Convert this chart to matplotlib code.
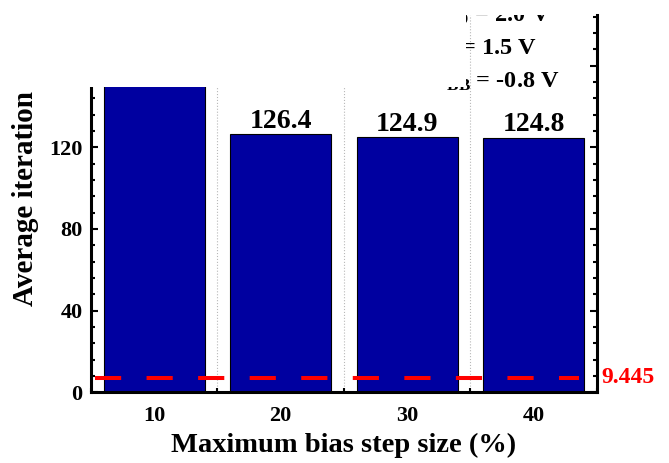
import numpy as np
import matplotlib
matplotlib.use('Agg')
from matplotlib import pyplot as plt
from matplotlib.patches import Rectangle
from matplotlib.ticker import MultipleLocator

# data
stepSize = [10, 20, 30, 40]
avgIter = [168.0, 126.4, 124.9, 124.8]   # first bar is cut off in the reference
refLevel = 7.0                           # where the dashed line sits
refLabel = '9.445'
condLines = [r'$\mathbf{V_{DD}}$ = 2.0 V',
             r'$\mathbf{V_{in}}$ = 1.5 V',
             r'$\mathbf{V_{BB}}$ = -0.8 V']
condShift = [-0.006, -0.012, 0.0]

plt.rcParams['font.family'] = ['Liberation Serif', 'DejaVu Serif']
plt.rcParams['font.weight'] = 'bold'
plt.rcParams['mathtext.fontset'] = 'custom'
plt.rcParams['mathtext.rm'] = 'Liberation Serif:bold'
plt.rcParams['mathtext.bf'] = 'Liberation Serif:bold'
plt.rcParams['mathtext.it'] = 'Liberation Serif:bold'

fig = plt.figure(figsize=(6.69, 4.63), dpi=100)
ax = fig.add_axes([0.136, 0.153, 0.756, 0.815])

ax.bar(stepSize, avgIter, width=8, color='#0000a0', edgecolor='black',
       linewidth=0.8, zorder=2)
for x, v in zip(stepSize, avgIter):
    ax.text(x, v + 3, '%.1f' % v, ha='center', va='baseline',
            fontsize=20, fontweight='bold', zorder=3)

ax.hlines(refLevel, 5.3, 43.6, colors='red', linewidth=2.9,
          linestyles=(0, (6.5, 6.3)), zorder=4)
ax.text(1.01, refLevel, refLabel, transform=ax.get_yaxis_transform(),
        color='red', fontsize=17, fontweight='bold', va='center', ha='left')

for i, s in enumerate(condLines):
    ax.text(0.668 + condShift[i], 0.982 - i * 0.0875, s,
            transform=ax.transAxes, fontsize=17.5, fontweight='bold',
            va='baseline', ha='left', clip_on=True, zorder=3)

ax.set_xlim(5, 45)
ax.set_ylim(0, 185)
ax.xaxis.set_major_locator(MultipleLocator(10))
ax.xaxis.set_minor_locator(MultipleLocator(5))
ax.yaxis.set_major_locator(MultipleLocator(40))
ax.yaxis.set_minor_locator(MultipleLocator(8))
ax.grid(True, which='minor', axis='x', linestyle=':', color='#b8b8b8',
        linewidth=0.8, zorder=0)
ax.set_axisbelow(True)

ax.spines['top'].set_visible(False)
for sp in ['left', 'right', 'bottom']:
    ax.spines[sp].set_linewidth(2.2)
ax.tick_params(which='both', direction='in', right=True, top=False,
               width=1.5, labelsize=16)
ax.tick_params(which='major', length=5)
ax.tick_params(which='minor', length=3)
ax.tick_params(axis='x', pad=10)
ax.tick_params(axis='y', pad=6)

ax.set_xlabel('Maximum bias step size (%)', fontsize=20.5, fontweight='bold',
              labelpad=5)
ax.set_ylabel('Average iteration', fontsize=21, fontweight='bold')
ax.yaxis.set_label_coords(-0.103, 0.513)

# the reference has the top-left corner blanked out
fig.add_artist(Rectangle((0, 0.812), 0.697, 0.188, transform=fig.transFigure,
                         facecolor='white', edgecolor='none', zorder=10))

plt.savefig('out.png', dpi=100)
